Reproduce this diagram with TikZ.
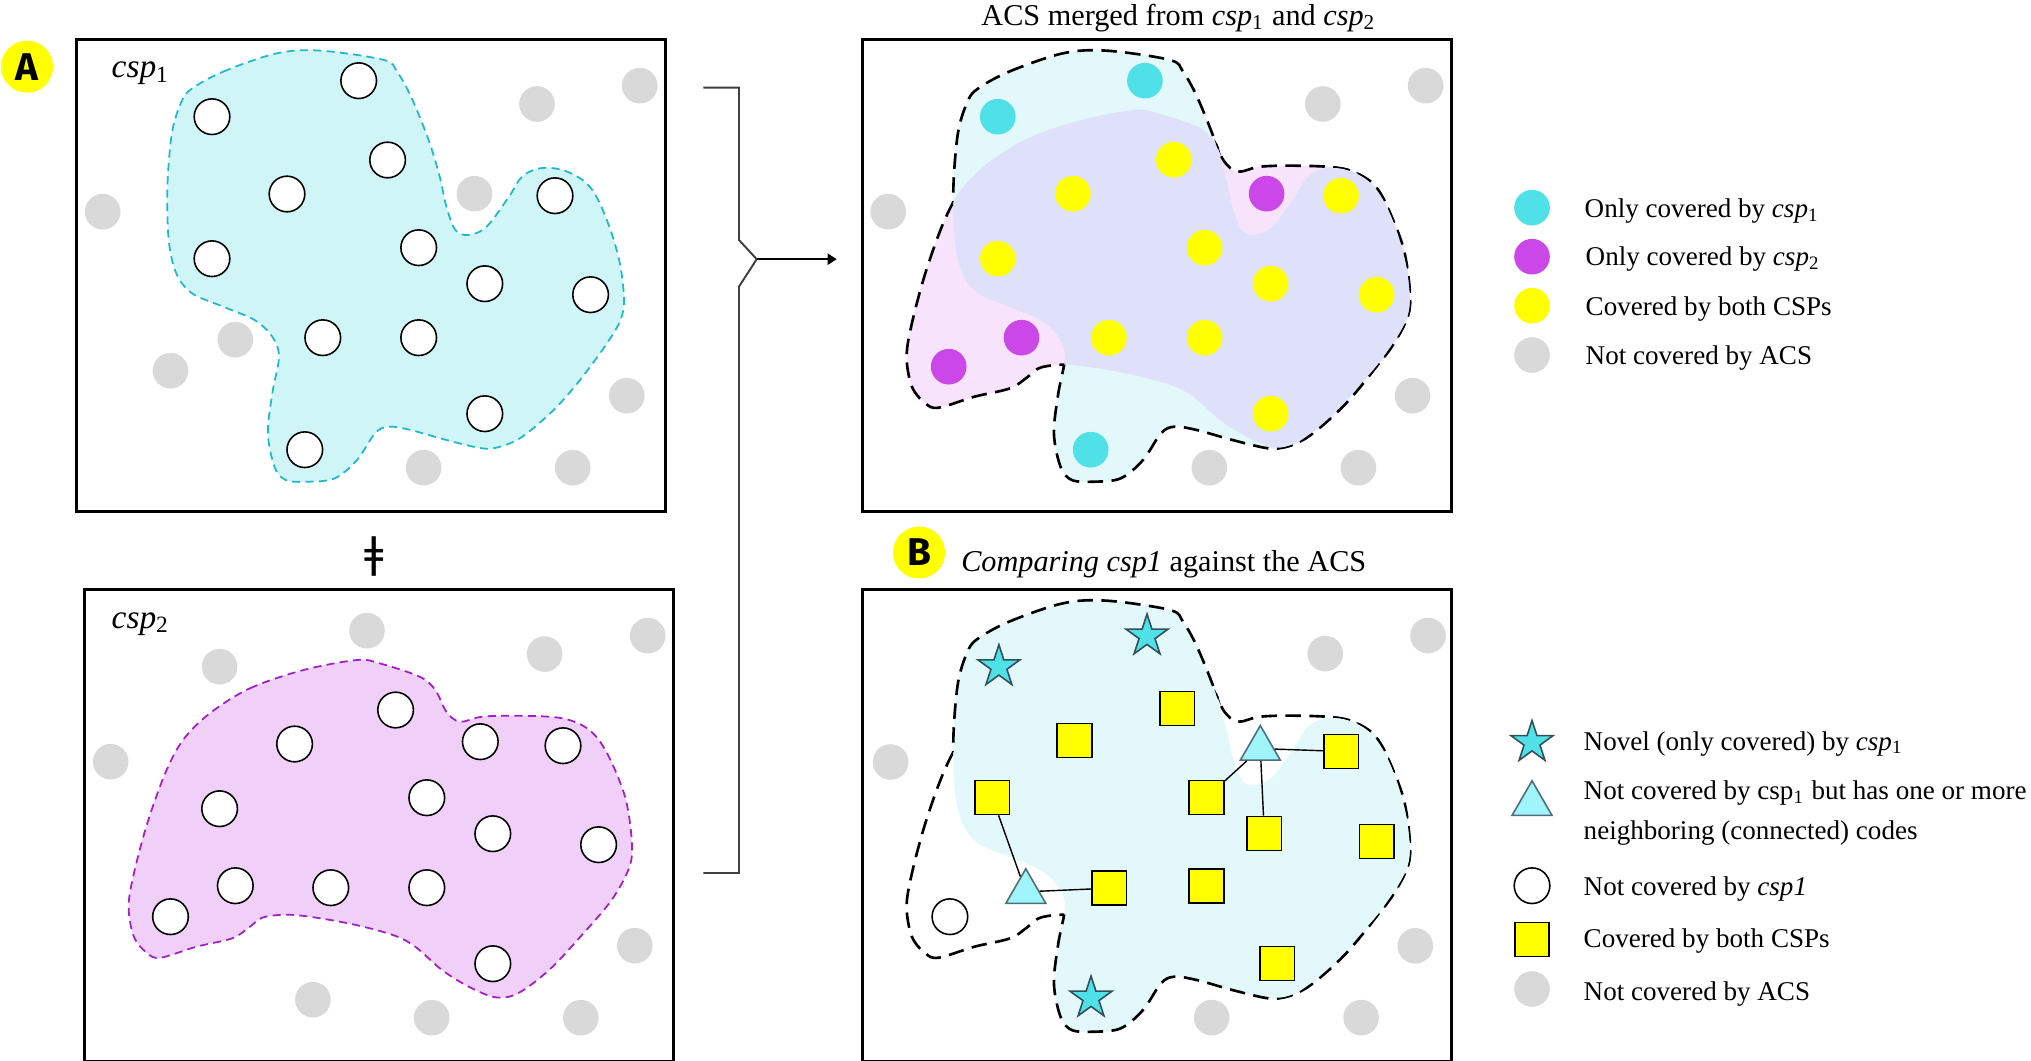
\documentclass[tikz,border=0pt]{standalone}
\usepackage{fontspec}
\setmainfont{Liberation Serif}
\newfontfamily\lblfont{Fira Sans}
\newfontfamily\djv{DejaVu Sans}
\usetikzlibrary{shapes.geometric,arrows.meta}
\definecolor{cyanD}{RGB}{79,224,232}
\definecolor{magD}{RGB}{204,71,232}
\definecolor{yelD}{RGB}{255,255,0}
\definecolor{grayD}{RGB}{217,217,217}
\definecolor{blobAfill}{RGB}{208,245,247}
\definecolor{blobAline}{RGB}{32,184,204}
\definecolor{blobBfill}{RGB}{240,208,248}
\definecolor{blobBline}{RGB}{160,32,200}
\definecolor{mcyan}{RGB}{227,248,251}
\definecolor{mpink}{RGB}{247,227,252}
\definecolor{mlav}{RGB}{222,225,249}
\definecolor{trifill}{RGB}{160,245,250}
\definecolor{triedge}{RGB}{80,110,120}
\definecolor{staredge}{RGB}{50,80,90}
\definecolor{bracketc}{RGB}{64,64,64}
\begin{document}
\begin{tikzpicture}[x=0.01cm,y=-0.01cm,
 dotbase/.style={circle,inner sep=0pt,minimum size=0.356cm},
 wdot/.style={dotbase,draw=black,line width=0.45pt,fill=white},
 gdot/.style={dotbase,fill=grayD},
 cdot/.style={dotbase,fill=cyanD},
 mdot/.style={dotbase,fill=magD},
 ydot/.style={dotbase,fill=yelD},
 ysq/.style={rectangle,draw=black,line width=0.45pt,fill=yelD,inner sep=0pt,minimum width=0.345cm,minimum height=0.34cm},
 tri/.style={regular polygon,regular polygon sides=3,draw=triedge,line width=0.45pt,fill=trifill,inner sep=0pt,minimum size=0.46cm},
 nstar/.style={star,star points=5,star point ratio=2.618,draw=staredge,line width=0.45pt,fill=cyanD,inner sep=0pt,minimum size=0.44cm},
 panel/.style={draw=black,line width=0.75pt,minimum width=5.89cm,minimum height=4.72cm,anchor=north west,inner sep=0pt},
 lbl/.style={circle,fill=yelD,inner sep=0pt,minimum size=0.52cm,font=\lblfont\bfseries\fontsize{11}{13}\selectfont},
 legtxt/.style={anchor=base west,inner sep=0pt,font=\fontsize{7.7}{11.2}\selectfont},
 ttl/.style={inner sep=0pt,font=\fontsize{8.6}{10}\selectfont},
 csplbl/.style={anchor=base west,inner sep=0pt,font=\fontsize{9.5}{11}\selectfont\itshape},
 uline/.style={draw=black,line width=0.75pt,dash pattern=on 4.4pt off 2.4pt},
 conn/.style={draw=black,line width=0.4pt},
 outside/.style={insert path={(-100,-100) -- (-100,600) -- (700,600) -- (700,-100) -- cycle}},
 blobone/.style={insert path={plot[smooth cycle,tension=0.55] coordinates {(116,51.3) (148,33.7) (202,15.3) (246,12.7) (309,22) (322,33.7) (336,58.7) (353.6,102) (364.7,138.7) (371.4,168.7) (380.4,192) (393.7,197) (411.6,188.7) (434,158.7) (447,138.7) (465,130.3) (487.5,132) (509.8,143.7) (523.2,162) (536.6,195.3) (545.5,228.7) (549,262) (545.5,282) (532,305.3) (505,342) (478.6,372) (447.3,398.7) (425,408.7) (407,410.3) (371.4,402) (335.7,392) (313.4,388.7) (300,395.3) (282,422) (259.8,440.3) (233,443.7) (210.7,442) (199.5,428.7) (192.9,395.3) (197.3,355.3) (204,318.7) (197.3,298.7) (179.5,282) (148.2,268.7) (117,255.3) (101.3,235.3) (93.7,202) (92.4,148.7) (96.9,95.3) (105.8,65.3)}}},
 blobtwo/.style={insert path={plot[smooth cycle,tension=0.55] coordinates {(126.8,125.3) (167,100.3) (220.6,82) (274.1,72) (296.5,75.3) (336.6,88.7) (352.3,102) (363.4,123.7) (376.8,133.7) (399.1,128.7) (434.9,127.7) (479.5,130.3) (506.3,142) (524.1,165.3) (542,208.7) (548.7,252) (546.5,278.7) (528.6,312) (497.4,348.7) (466.1,382) (434.9,405.3) (412.5,409.3) (385.8,398.7) (359,382) (332.2,358.7) (309.9,347) (265.2,335.3) (211.6,327) (180.4,329.3) (167,338.7) (149.1,350.3) (113.4,358.7) (77.7,369.7) (64.3,365.3) (50.9,348.7) (45.6,318.7) (50.9,285.3) (64.3,235.3) (82.2,185.3) (100,152)}}}
]
\useasboundingbox (0,0) rectangle (2031,1061);
\fill[white] (0,0) rectangle (2031,1061);

% ---------- panel boxes ----------
\node[panel] (boxA) at (75,38) {};
\node[panel] (boxC) at (83,588) {};
\node[panel] (boxM) at (861,38) {};
\node[panel] (boxB) at (861,588) {};

% ---------- panel A: csp1 ----------
\begin{scope}[shift={(75,38)}]
 \path[fill=blobAfill,draw=blobAline,line width=0.5pt,dash pattern=on 2.3pt off 1.5pt,blobone];
 \node[wdot] (a1) at (283.7,42.7) {};
 \node[wdot] (a2) at (137,78.7) {};
 \node[wdot] (a3) at (312.6,122) {};
 \node[wdot] (a4) at (212,156) {};
 \node[wdot] (a5) at (480,157.7) {};
 \node[wdot] (a6) at (137,220.7) {};
 \node[wdot] (a7) at (343.7,209.7) {};
 \node[wdot] (a8) at (409.8,245.7) {};
 \node[wdot] (a9) at (515.6,256.7) {};
 \node[wdot] (a10) at (247.8,299.7) {};
 \node[wdot] (a11) at (343.7,299.7) {};
 \node[wdot] (a12) at (409.8,375.7) {};
 \node[wdot] (a13) at (229.8,411.7) {};
 \node[gdot] (ag1) at (462,66) {};
 \node[gdot] (ag2) at (564.7,47.7) {};
 \node[gdot] (ag3) at (399.5,155.7) {};
 \node[gdot] (ag4) at (27.7,173.7) {};
 \node[gdot] (ag5) at (160.3,301.7) {};
 \node[gdot] (ag6) at (95.5,332.7) {};
 \node[gdot] (ag7) at (551.8,357.7) {};
 \node[gdot] (ag8) at (348.6,429.7) {};
 \node[gdot] (ag9) at (497.7,429.7) {};
\end{scope}
\node[csplbl] (lcspA) at (111,78) {csp\textsubscript{\upshape 1}};
\node[lbl] (labA) at (27,66.7) {A};

% ---------- panel C: csp2 ----------
\begin{scope}[shift={(83,588)}]
 \path[fill=blobBfill,draw=blobBline,line width=0.5pt,dash pattern=on 2.3pt off 1.5pt,blobtwo];
 \node[wdot] (c3) at (312.6,122) {};
 \node[wdot] (c4) at (211.6,156) {};
 \node[wdot] (c14) at (397.3,153.7) {};
 \node[wdot] (c5) at (480,157.7) {};
 \node[wdot] (c6) at (136.6,220.7) {};
 \node[wdot] (c7) at (343.8,209.7) {};
 \node[wdot] (c8) at (409.8,245.7) {};
 \node[wdot] (c9) at (515.6,256.7) {};
 \node[wdot] (c15) at (152.3,297.7) {};
 \node[wdot] (c10) at (247.8,299.7) {};
 \node[wdot] (c11) at (343.8,299.7) {};
 \node[wdot] (c16) at (87.5,328.7) {};
 \node[wdot] (c12) at (409.8,375.7) {};
 \node[gdot] (cg1) at (284,42.7) {};
 \node[gdot] (cg2) at (136.6,78.7) {};
 \node[gdot] (cg3) at (461.6,66) {};
 \node[gdot] (cg4) at (564.7,47.7) {};
 \node[gdot] (cg5) at (27.7,173.7) {};
 \node[gdot] (cg6) at (551.8,357.7) {};
 \node[gdot] (cg7) at (229.9,411.7) {};
 \node[gdot] (cg8) at (348.7,429.7) {};
 \node[gdot] (cg9) at (497.8,429.7) {};
\end{scope}
\node[csplbl] (lcspC) at (111,628.3) {csp\textsubscript{\upshape 2}};
\node[font=\djv\fontsize{12}{14}\selectfont,inner sep=0pt] (plus) at (374,557) {ǂ};

% ---------- bracket and arrow ----------
\coordinate (brtop) at (703.3,87.7);
\coordinate (brbot) at (703.3,873);
\coordinate (fork) at (756.7,259.2);
\coordinate (arrend) at (836.7,259.2);
\draw[bracketc,line width=0.55pt] (brtop) -- (739,87.7) -- (739,240) -- (fork) -- (739,286.6) -- (739,873) -- (brbot);
\draw[black,line width=0.6pt,-{Triangle[length=0.09cm,width=0.11cm]}] (fork) -- (arrend);

% ---------- merged panel ----------
\node[ttl,anchor=base] (ttlM) at (1178.7,26) {ACS merged from \textit{csp}\textsubscript{1} and \textit{csp}\textsubscript{2}};
\begin{scope}[shift={(861,38)}]
 \fill[mcyan,blobone];
 \fill[mpink,blobtwo];
 \begin{scope}
  \clip[blobone];
  \fill[mlav,blobtwo];
 \end{scope}
 \begin{scope}
  \clip[blobtwo,outside];
  \path[uline,blobone];
 \end{scope}
 \begin{scope}
  \clip[blobone,outside];
  \path[uline,blobtwo];
 \end{scope}
 \node[cdot] (m1) at (283.9,42.7) {};
 \node[cdot] (m2) at (136.8,78.7) {};
 \node[cdot] (m13) at (229.7,411.7) {};
 \node[ydot] (m3) at (312.7,121.7) {};
 \node[ydot] (m4) at (211.9,155.7) {};
 \node[ydot] (m5) at (480,157.7) {};
 \node[ydot] (m6) at (136.8,220.7) {};
 \node[ydot] (m7) at (343.6,209.7) {};
 \node[ydot] (m8) at (409.6,245.7) {};
 \node[ydot] (m9) at (515.6,256.7) {};
 \node[ydot] (m10) at (247.9,299.7) {};
 \node[ydot] (m11) at (343.6,299.7) {};
 \node[ydot] (m12) at (409.6,375.7) {};
 \node[mdot] (m14) at (405.6,155.7) {};
 \node[mdot] (m15) at (160.5,299.7) {};
 \node[mdot] (m16) at (87.7,328.7) {};
 \node[gdot] (mg1) at (461.8,66) {};
 \node[gdot] (mg2) at (564.6,47.7) {};
 \node[gdot] (mg3) at (27.2,173.7) {};
 \node[gdot] (mg4) at (551.5,357.7) {};
 \node[gdot] (mg5) at (348.3,429.7) {};
 \node[gdot] (mg6) at (497.4,429.7) {};
\end{scope}

% ---------- panel B ----------
\node[lbl] (labB) at (919,552.5) {B};
\node[ttl,anchor=base west] (ttlB) at (960.6,571.3) {\textit{Comparing csp1} against the ACS};
\begin{scope}[shift={(861,588)}]
 \fill[mcyan,blobone];
 \begin{scope}
  \clip[blobtwo,outside];
  \path[uline,blobone];
 \end{scope}
 \begin{scope}
  \clip[blobone,outside];
  \path[uline,blobtwo];
 \end{scope}
 \node[nstar] (bs1) at (286,48) {};
 \node[nstar] (bs2) at (137.9,78.7) {};
 \node[nstar] (bs3) at (230,410) {};
 \node[ysq] (b3) at (316.4,120.4) {};
 \node[ysq] (b4) at (213.5,152.3) {};
 \node[ysq] (b5) at (480.4,163.4) {};
 \node[ysq] (b6) at (131.2,209.5) {};
 \node[ysq] (b7) at (345.5,209.5) {};
 \node[ysq] (b8) at (403.3,245.4) {};
 \node[ysq] (b9) at (515.6,253.5) {};
 \node[ysq] (b10) at (248.3,300.2) {};
 \node[ysq] (b11) at (345.5,298.2) {};
 \node[ysq] (b12) at (416.3,375.4) {};
 \node[tri] (bt1) at (399.3,160.6) {};
 \node[tri] (bt2) at (164.8,303.8) {};
 \node[wdot] (bw) at (88.9,328.7) {};
 \node[gdot] (bg1) at (464.2,65.6) {};
 \node[gdot] (bg2) at (567,47.6) {};
 \node[gdot] (bg3) at (29.6,174) {};
 \node[gdot] (bg4) at (554.3,357.8) {};
 \node[gdot] (bg5) at (350.7,429.6) {};
 \node[gdot] (bg6) at (500.1,429.6) {};
 \draw[conn] (bt1) -- (b5);
 \draw[conn] (bt1) -- (b7);
 \draw[conn] (bt1) -- (b8);
 \draw[conn] (bt2) -- (b6);
 \draw[conn] (bt2) -- (b10);
\end{scope}

% ---------- legend 1 ----------
\node[cdot] (k1) at (1532,207.7) {};
\node[mdot] (k2) at (1532,256.7) {};
\node[ydot] (k3) at (1532,305.7) {};
\node[gdot] (k4) at (1532,355) {};
\node[legtxt] (lt1) at (1584,217.7) {Only covered by \textit{csp}\textsubscript{1}};
\node[legtxt] (lt2) at (1585,266) {Only covered by \textit{csp}\textsubscript{2}};
\node[legtxt] (lt3) at (1585,316) {Covered by both CSPs};
\node[legtxt] (lt4) at (1585,364) {Not covered by ACS};

% ---------- legend 2 ----------
\node[nstar] (k5) at (1532,742.5) {};
\node[tri] (k6) at (1532,803.8) {};
\node[wdot] (k7) at (1532,885.7) {};
\node[ysq] (k8) at (1532,939.5) {};
\node[gdot] (k9) at (1532,989) {};
\node[legtxt] (lt5) at (1583,750) {Novel (only covered) by \textit{csp}\textsubscript{1}};
\node[legtxt,align=left] (lt6) at (1583,839.3) {Not covered by csp\textsubscript{1} but has one or more\\neighboring (connected) codes};
\node[legtxt] (lt7) at (1583,895) {Not covered by \textit{csp1}};
\node[legtxt] (lt8) at (1583,947.3) {Covered by both CSPs};
\node[legtxt] (lt9) at (1583,1000) {Not covered by ACS};
\end{tikzpicture}
\end{document}
